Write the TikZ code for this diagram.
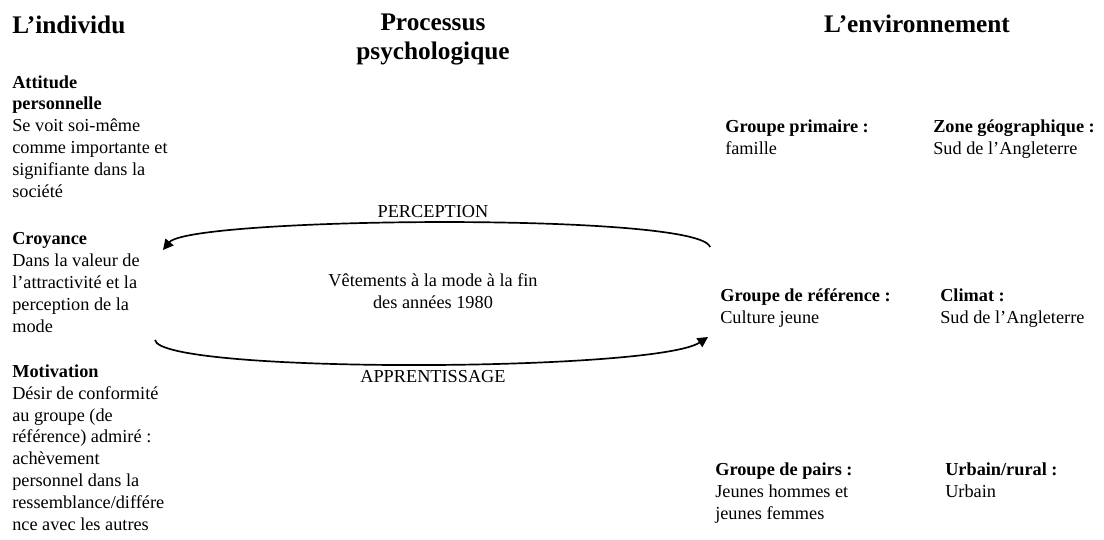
\documentclass[tikz,border=0pt]{standalone}
\usepackage{fontspec}
\setmainfont{Liberation Serif}
\usetikzlibrary{arrows.meta}
\tikzset{
	titre/.style={
		inner sep = 0,
		font = \fontsize{18}{20}\selectfont\bfseries,
		align = center,
		anchor = base
	},
	bloc/.style={
		inner sep = 0,
		align = left,
		anchor = base west
	},
	fleche/.style={
		line width = 1.2pt,
		->
	},
}
\tikzset{>={Triangle[length=2.6mm,width=2.6mm]}}

\begin{document}
\begin{tikzpicture}[font=\fontsize{13}{15.5}\selectfont, x=0.025cm, y=-0.025cm]
    \useasboundingbox (0,0) rectangle (1104,539);
    \node[titre, anchor=base west] (individu) at (12,33) {L’individu};
    \node[titre] (processus) at (433,59) {Processus\\psychologique};
    \node[titre] (environnement) at (917,32) {L’environnement};

    \node[bloc] (attitude) at (12,197) {\textbf{Attitude}\\\textbf{personnelle}\\Se voit soi-même\\comme importante et\\signifiante dans la\\société};
    \node[bloc] (croyance) at (12,332) {\textbf{Croyance}\\Dans la valeur de\\l’attractivité et la\\perception de la\\mode};
    \node[bloc] (motivation) at (12,530) {\textbf{Motivation}\\Désir de conformité\\au groupe (de\\référence) admiré :\\achèvement\\personnel dans la\\ressemblance/différe\\nce avec les autres};

    \node[bloc, align=center, anchor=base] (vetements) at (433,308) {Vêtements à la mode à la fin\\des années 1980};
    \node[anchor=base, inner sep=0] (perception) at (433,217) {PERCEPTION};
    \node[anchor=base, inner sep=0] (apprentissage) at (433,382) {APPRENTISSAGE};

    \node[bloc] (primaire) at (725,154) {\textbf{Groupe primaire :}\\famille};
    \node[bloc] (zone) at (933,154) {\textbf{Zone géographique :}\\Sud de l’Angleterre};
    \node[bloc] (reference) at (720,323) {\textbf{Groupe de référence :}\\Culture jeune};
    \node[bloc] (climat) at (940,323) {\textbf{Climat :}\\Sud de l’Angleterre};
    \node[bloc] (pairs) at (715,519) {\textbf{Groupe de pairs :}\\Jeunes hommes et\\jeunes femmes};
    \node[bloc] (urbain) at (945,497) {\textbf{Urbain/rural :}\\Urbain};

    \coordinate (percDebut) at (710,247);
    \coordinate (percFin) at (163,250);
    \coordinate (apprDebut) at (155,340);
    \coordinate (apprFin) at (708,337);
    \draw[fleche] (percDebut) .. controls (700,212) and (190,217) .. (percFin);
    \draw[fleche] (apprDebut) .. controls (160,374) and (655,372) .. (apprFin);
\end{tikzpicture}
\end{document}
